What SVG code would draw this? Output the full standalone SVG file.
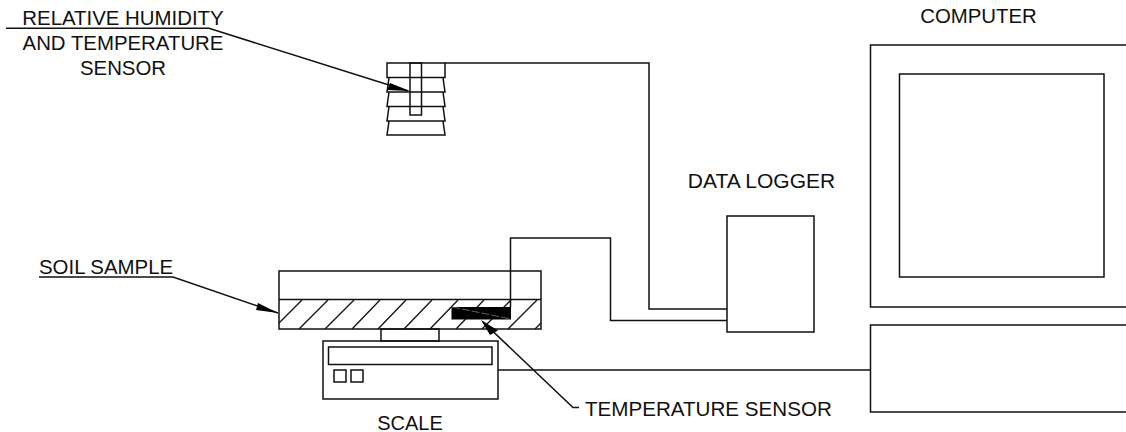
<svg xmlns="http://www.w3.org/2000/svg" width="1126" height="432" viewBox="0 0 1126 432">
<style>
.l{fill:none;stroke:#111;stroke-width:1.5}
.h{fill:none;stroke:#111;stroke-width:1.3}
.t{font-family:"Liberation Sans",Arial,sans-serif;font-size:20.4px;fill:#111}
.m{text-anchor:middle}
.a{fill:#000;stroke:none}
</style>
<rect width="1126" height="432" fill="#fff"/>
<g id="soil-hatch">
<path class="h" d="M279 323L302 300M299 329L328 300M325 329L354 300M352 329L380 300M378 329L406 300M404 329L432 300M430 329L458 300M456 329L484 300M482 329L511 300M508 329L537 300M535 329L541 323"/>
</g>
<g id="connectors">
<path class="l" d="M445 63H649V309H727"/>
<path class="l" d="M510.500 307V238H610.500V320.500H727"/>
<path class="l" d="M498 370H870"/>
<path class="l" d="M6 28.300H209L408 91"/>
<path class="a" d="M410 91L390 83L387 90Z"/>
<path class="l" d="M39 277H173L278 313"/>
<path class="a" d="M278 313L258 303L256 310Z"/>
<path class="l" d="M579 407.500H573L483 322"/>
</g>
<g id="rh-sensor">
<rect class="l" x="387" y="63" width="58" height="14.500"/>
<path class="l" d="M389 77.500L387 92H445L443 77.500M389 92L387 106.500H445L443 92M389 106.500L387 121H445L443 106.500M389 121L387 135H445L443 121"/>
<rect class="l" x="410" y="63" width="11.500" height="52"/>
</g>
<g id="soil-sample">
<rect class="l" x="279" y="271" width="262" height="58"/>
<path class="l" d="M279 299.500H541"/>
<rect x="451.500" y="307" width="59.500" height="12.500" fill="#000"/>
<path d="M452 307L511 319" stroke="#888" stroke-width="0.700" stroke-dasharray="8 2"/>
<path class="a" d="M481 320L498 330.500L490 335Z"/>
</g>
<g id="scale">
<rect class="l" x="381" y="329" width="58" height="12"/>
<rect class="l" x="323" y="341" width="175" height="58"/>
<rect class="l" x="328.500" y="347" width="163.500" height="17.500"/>
<rect class="l" x="334" y="370" width="12" height="12"/>
<rect class="l" x="351" y="370" width="12" height="12"/>
</g>
<g id="data-logger"><rect class="l" x="727" y="216" width="87" height="116"/></g>
<g id="computer">
<path class="l" d="M1126 45H870.500V307H1126"/>
<rect class="l" x="899.500" y="74" width="204.500" height="203"/>
<path class="l" d="M1126 325H870.500V412H1126"/>
</g>
<g id="labels">
<text class="t m" x="123" y="25">RELATIVE HUMIDITY</text>
<text class="t m" x="123" y="50">AND TEMPERATURE</text>
<text class="t m" x="123" y="74.500">SENSOR</text>
<text class="t" x="39" y="274">SOIL SAMPLE</text>
<text class="t" x="585" y="415.500" style="font-size:20.6px">TEMPERATURE SENSOR</text>
<text class="t m" x="410" y="429.500" style="font-size:20px">SCALE</text>
<text class="t m" x="761.500" y="187.700" style="font-size:21px">DATA LOGGER</text>
<text class="t m" x="978.500" y="23">COMPUTER</text>
</g>
</svg>
